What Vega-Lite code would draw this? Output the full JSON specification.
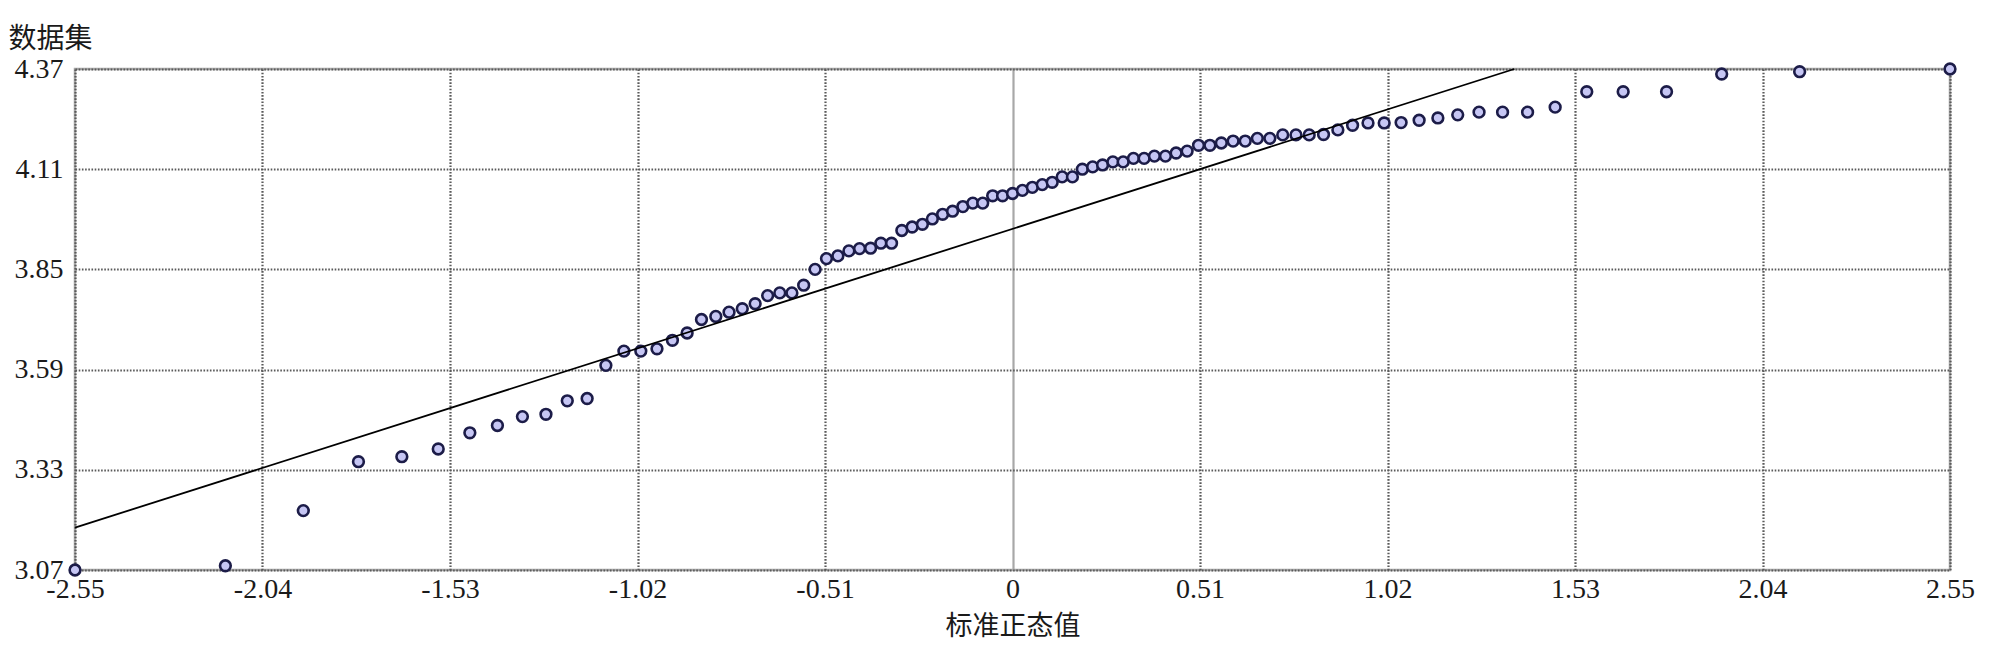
{
  "$schema": "https://vega.github.io/schema/vega-lite/v6.json",
  "autosize": {"type": "none"},
  "padding": {"left": 75, "top": 69, "right": 50, "bottom": 82},
  "width": 1875,
  "height": 501,
  "background": "white",
  "config": {
    "view": {"stroke": "#a8a8a8", "strokeWidth": 2.5},
    "axis": {
      "labelFont": "Liberation Serif",
      "labelFontSize": 28,
      "labelColor": "#1a1a1a",
      "titleFont": "Noto Sans CJK SC",
      "titleFontSize": 27,
      "titleFontWeight": "normal",
      "titleColor": "#1a1a1a",
      "domain": false,
      "ticks": false,
      "grid": true,
      "gridColor": "#5a5a5a",
      "gridWidth": 2.2,
      "gridDash": [1.6, 1.6],
      "gridOpacity": 1
    }
  },
  "datasets": {
    "pts": [
      {"z": -2.550, "v": 3.070}, {"z": -2.141, "v": 3.081}, {"z": -1.929, "v": 3.224}, {"z": -1.779, "v": 3.351},
      {"z": -1.661, "v": 3.364}, {"z": -1.562, "v": 3.384}, {"z": -1.476, "v": 3.426}, {"z": -1.401, "v": 3.445},
      {"z": -1.333, "v": 3.468}, {"z": -1.269, "v": 3.474}, {"z": -1.211, "v": 3.509}, {"z": -1.157, "v": 3.515},
      {"z": -1.106, "v": 3.601}, {"z": -1.057, "v": 3.638}, {"z": -1.011, "v": 3.638}, {"z": -0.967, "v": 3.644},
      {"z": -0.925, "v": 3.666}, {"z": -0.885, "v": 3.685}, {"z": -0.846, "v": 3.720}, {"z": -0.807, "v": 3.728},
      {"z": -0.771, "v": 3.739}, {"z": -0.735, "v": 3.748}, {"z": -0.700, "v": 3.761}, {"z": -0.666, "v": 3.782},
      {"z": -0.633, "v": 3.789}, {"z": -0.600, "v": 3.789}, {"z": -0.568, "v": 3.809}, {"z": -0.537, "v": 3.850},
      {"z": -0.506, "v": 3.878}, {"z": -0.475, "v": 3.885}, {"z": -0.445, "v": 3.898}, {"z": -0.416, "v": 3.904},
      {"z": -0.386, "v": 3.905}, {"z": -0.358, "v": 3.918}, {"z": -0.329, "v": 3.918}, {"z": -0.301, "v": 3.951},
      {"z": -0.273, "v": 3.960}, {"z": -0.245, "v": 3.967}, {"z": -0.218, "v": 3.981}, {"z": -0.190, "v": 3.993},
      {"z": -0.163, "v": 4.001}, {"z": -0.135, "v": 4.013}, {"z": -0.108, "v": 4.022}, {"z": -0.081, "v": 4.022},
      {"z": -0.054, "v": 4.041}, {"z": -0.027, "v": 4.041}, {"z": 0.000, "v": 4.047}, {"z": 0.027, "v": 4.055},
      {"z": 0.054, "v": 4.063}, {"z": 0.081, "v": 4.070}, {"z": 0.108, "v": 4.076}, {"z": 0.135, "v": 4.090},
      {"z": 0.163, "v": 4.090}, {"z": 0.190, "v": 4.110}, {"z": 0.218, "v": 4.116}, {"z": 0.245, "v": 4.121},
      {"z": 0.273, "v": 4.129}, {"z": 0.301, "v": 4.129}, {"z": 0.329, "v": 4.138}, {"z": 0.358, "v": 4.138},
      {"z": 0.386, "v": 4.144}, {"z": 0.416, "v": 4.144}, {"z": 0.445, "v": 4.152}, {"z": 0.475, "v": 4.157},
      {"z": 0.506, "v": 4.172}, {"z": 0.537, "v": 4.172}, {"z": 0.568, "v": 4.178}, {"z": 0.600, "v": 4.183},
      {"z": 0.633, "v": 4.183}, {"z": 0.666, "v": 4.190}, {"z": 0.700, "v": 4.190}, {"z": 0.735, "v": 4.199},
      {"z": 0.771, "v": 4.199}, {"z": 0.807, "v": 4.199}, {"z": 0.846, "v": 4.200}, {"z": 0.885, "v": 4.212},
      {"z": 0.925, "v": 4.224}, {"z": 0.967, "v": 4.230}, {"z": 1.011, "v": 4.230}, {"z": 1.057, "v": 4.231},
      {"z": 1.106, "v": 4.237}, {"z": 1.157, "v": 4.243}, {"z": 1.211, "v": 4.251}, {"z": 1.269, "v": 4.258},
      {"z": 1.333, "v": 4.258}, {"z": 1.401, "v": 4.258}, {"z": 1.476, "v": 4.271}, {"z": 1.562, "v": 4.311},
      {"z": 1.661, "v": 4.311}, {"z": 1.779, "v": 4.311}, {"z": 1.929, "v": 4.357}, {"z": 2.141, "v": 4.363},
      {"z": 2.550, "v": 4.370}
    ],
    "ref": [
      {"z": -2.55, "v": 3.18},
      {"z": 1.365, "v": 4.37}
    ]
  },
  "encoding": {
    "x": {
      "field": "z", "type": "quantitative",
      "scale": {"domain": [-2.55, 2.55], "nice": false, "zero": false},
      "axis": {
        "values": [-2.55, -2.04, -1.53, -1.02, -0.51, 0, 0.51, 1.02, 1.53, 2.04, 2.55],
        "labelExpr": "'' + datum.value",
        "labelPadding": 5,
        "labelFlush": false,
        "labelOverlap": false,
        "title": "标准正态值",
        "titleY": 56,
        "titleBaseline": "middle",
        "gridDash": {"condition": {"test": "datum.value === 0", "value": []}, "value": [1.6, 1.6]},
        "gridColor": {"condition": {"test": "datum.value === 0", "value": "#a8a8a8"}, "value": "#5a5a5a"}
      }
    },
    "y": {
      "field": "v", "type": "quantitative",
      "scale": {"domain": [3.07, 4.37], "nice": false, "zero": false},
      "axis": {
        "values": [3.07, 3.33, 3.59, 3.85, 4.11, 4.37],
        "labelExpr": "'' + datum.value",
        "labelPadding": 12,
        "labelFlush": false,
        "labelOverlap": false,
        "title": "数据集",
        "titleAngle": 0,
        "titleAlign": "left",
        "titleBaseline": "middle",
        "titleFontSize": 28,
        "titleX": -67,
        "titleY": -30
      }
    }
  },
  "layer": [
    {
      "data": {"name": "pts"},
      "mark": {"type": "point", "shape": "circle", "filled": false, "fill": "#c6c6f4", "fillOpacity": 1, "stroke": "#1c1c48", "strokeWidth": 2.6, "size": 115, "opacity": 1, "clip": false}
    },
    {
      "data": {"name": "ref"},
      "mark": {"type": "line", "color": "#000000", "strokeWidth": 1.8}
    }
  ]
}
